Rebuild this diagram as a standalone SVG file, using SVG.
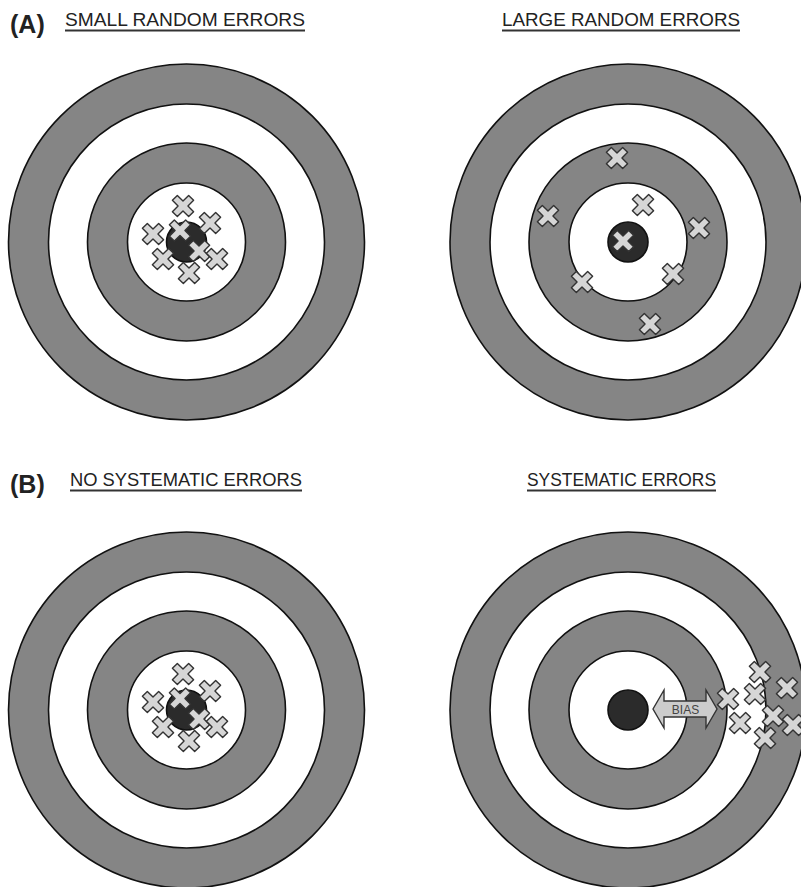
<svg xmlns="http://www.w3.org/2000/svg" xmlns:xlink="http://www.w3.org/1999/xlink" width="801" height="887" viewBox="0 0 801 887">
<style>
.bg{fill:#ffffff}
.ring{stroke:#111;stroke-width:1.6}
.g{fill:#858585}
.w{fill:#ffffff}
.dot{fill:#2b2b2b;stroke:#111;stroke-width:1.6}
.lbl{font-family:"Liberation Sans",Arial,sans-serif;font-size:19px;fill:#222}
.tag{font-family:"Liberation Sans",Arial,sans-serif;font-size:25px;font-weight:bold;fill:#222}
.ul{stroke:#333;stroke-width:2}
.xs{fill:#d6d6d6;stroke:#333;stroke-width:1.4;stroke-linejoin:round}
.bias{fill:#cccccc;stroke:#333;stroke-width:1.4;stroke-linejoin:miter}
.biast{font-family:"Liberation Sans",Arial,sans-serif;font-size:12px;fill:#444}
</style>
<defs>
<path id="cross" class="xs" transform="rotate(45)" d="M-3.5,-11.5 H3.5 V-3.5 H11.5 V3.5 H3.5 V11.5 H-3.5 V3.5 H-11.5 V-3.5 H-3.5 Z"/>
<g id="target">
<circle class="ring g" r="178"/>
<circle class="ring w" r="138"/>
<circle class="ring g" r="99"/>
<circle class="ring w" r="59"/>
<circle class="dot" r="20"/>
</g>
</defs>
<rect class="bg" x="0" y="0" width="801" height="887"/>

<g id="labels">
<text class="tag" x="10" y="33">(A)</text>
<text class="lbl" x="65" y="26" textLength="240" lengthAdjust="spacingAndGlyphs">SMALL RANDOM ERRORS</text>
<line class="ul" x1="65" y1="30.5" x2="305" y2="30.5"/>
<text class="lbl" x="502" y="26" textLength="238" lengthAdjust="spacingAndGlyphs">LARGE RANDOM ERRORS</text>
<line class="ul" x1="502" y1="30.5" x2="740" y2="30.5"/>
<text class="tag" x="10" y="493">(B)</text>
<text class="lbl" x="70" y="486" textLength="232" lengthAdjust="spacingAndGlyphs">NO SYSTEMATIC ERRORS</text>
<line class="ul" x1="70" y1="490.5" x2="302" y2="490.5"/>
<text class="lbl" x="527" y="486" textLength="189" lengthAdjust="spacingAndGlyphs">SYSTEMATIC ERRORS</text>
<line class="ul" x1="527" y1="490.5" x2="716" y2="490.5"/>
</g>

<g id="target-small-random">
<use xlink:href="#target" x="186.5" y="242"/>
<use xlink:href="#cross" x="183" y="206"/>
<use xlink:href="#cross" x="210" y="223"/>
<use xlink:href="#cross" x="153" y="234"/>
<use xlink:href="#cross" x="180" y="230.5"/>
<use xlink:href="#cross" x="199" y="251"/>
<use xlink:href="#cross" x="163" y="259"/>
<use xlink:href="#cross" x="217" y="259"/>
<use xlink:href="#cross" x="189" y="273"/>
</g>

<g id="target-large-random">
<use xlink:href="#target" x="628" y="242"/>
<use xlink:href="#cross" x="617" y="158"/>
<use xlink:href="#cross" x="643" y="205"/>
<use xlink:href="#cross" x="548" y="216"/>
<use xlink:href="#cross" x="699" y="228"/>
<use xlink:href="#cross" x="623" y="241"/>
<use xlink:href="#cross" x="582" y="282"/>
<use xlink:href="#cross" x="673" y="274"/>
<use xlink:href="#cross" x="650" y="324"/>
</g>

<g id="target-no-systematic">
<use xlink:href="#target" x="186.5" y="710"/>
<use xlink:href="#cross" x="183" y="674"/>
<use xlink:href="#cross" x="210" y="691"/>
<use xlink:href="#cross" x="153" y="702"/>
<use xlink:href="#cross" x="180" y="698.5"/>
<use xlink:href="#cross" x="199" y="719"/>
<use xlink:href="#cross" x="163" y="727"/>
<use xlink:href="#cross" x="217" y="727"/>
<use xlink:href="#cross" x="189" y="741"/>
</g>

<g id="target-systematic">
<use xlink:href="#target" x="628" y="710"/>
<use xlink:href="#cross" x="760" y="672"/>
<use xlink:href="#cross" x="787" y="688"/>
<use xlink:href="#cross" x="728" y="699"/>
<use xlink:href="#cross" x="755" y="694"/>
<use xlink:href="#cross" x="740" y="723"/>
<use xlink:href="#cross" x="773" y="716"/>
<use xlink:href="#cross" x="793" y="725"/>
<use xlink:href="#cross" x="765" y="738"/>
</g>

<g id="connectors">
<g id="bias-arrow">
<path class="bias" d="M653,709 L664,690 L664,701 L706,701 L706,690 L717,709 L706,728 L706,717 L664,717 L664,728 Z"/>
<text class="biast" x="685.5" y="713.5" text-anchor="middle">BIAS</text>
</g>
</g>
</svg>
